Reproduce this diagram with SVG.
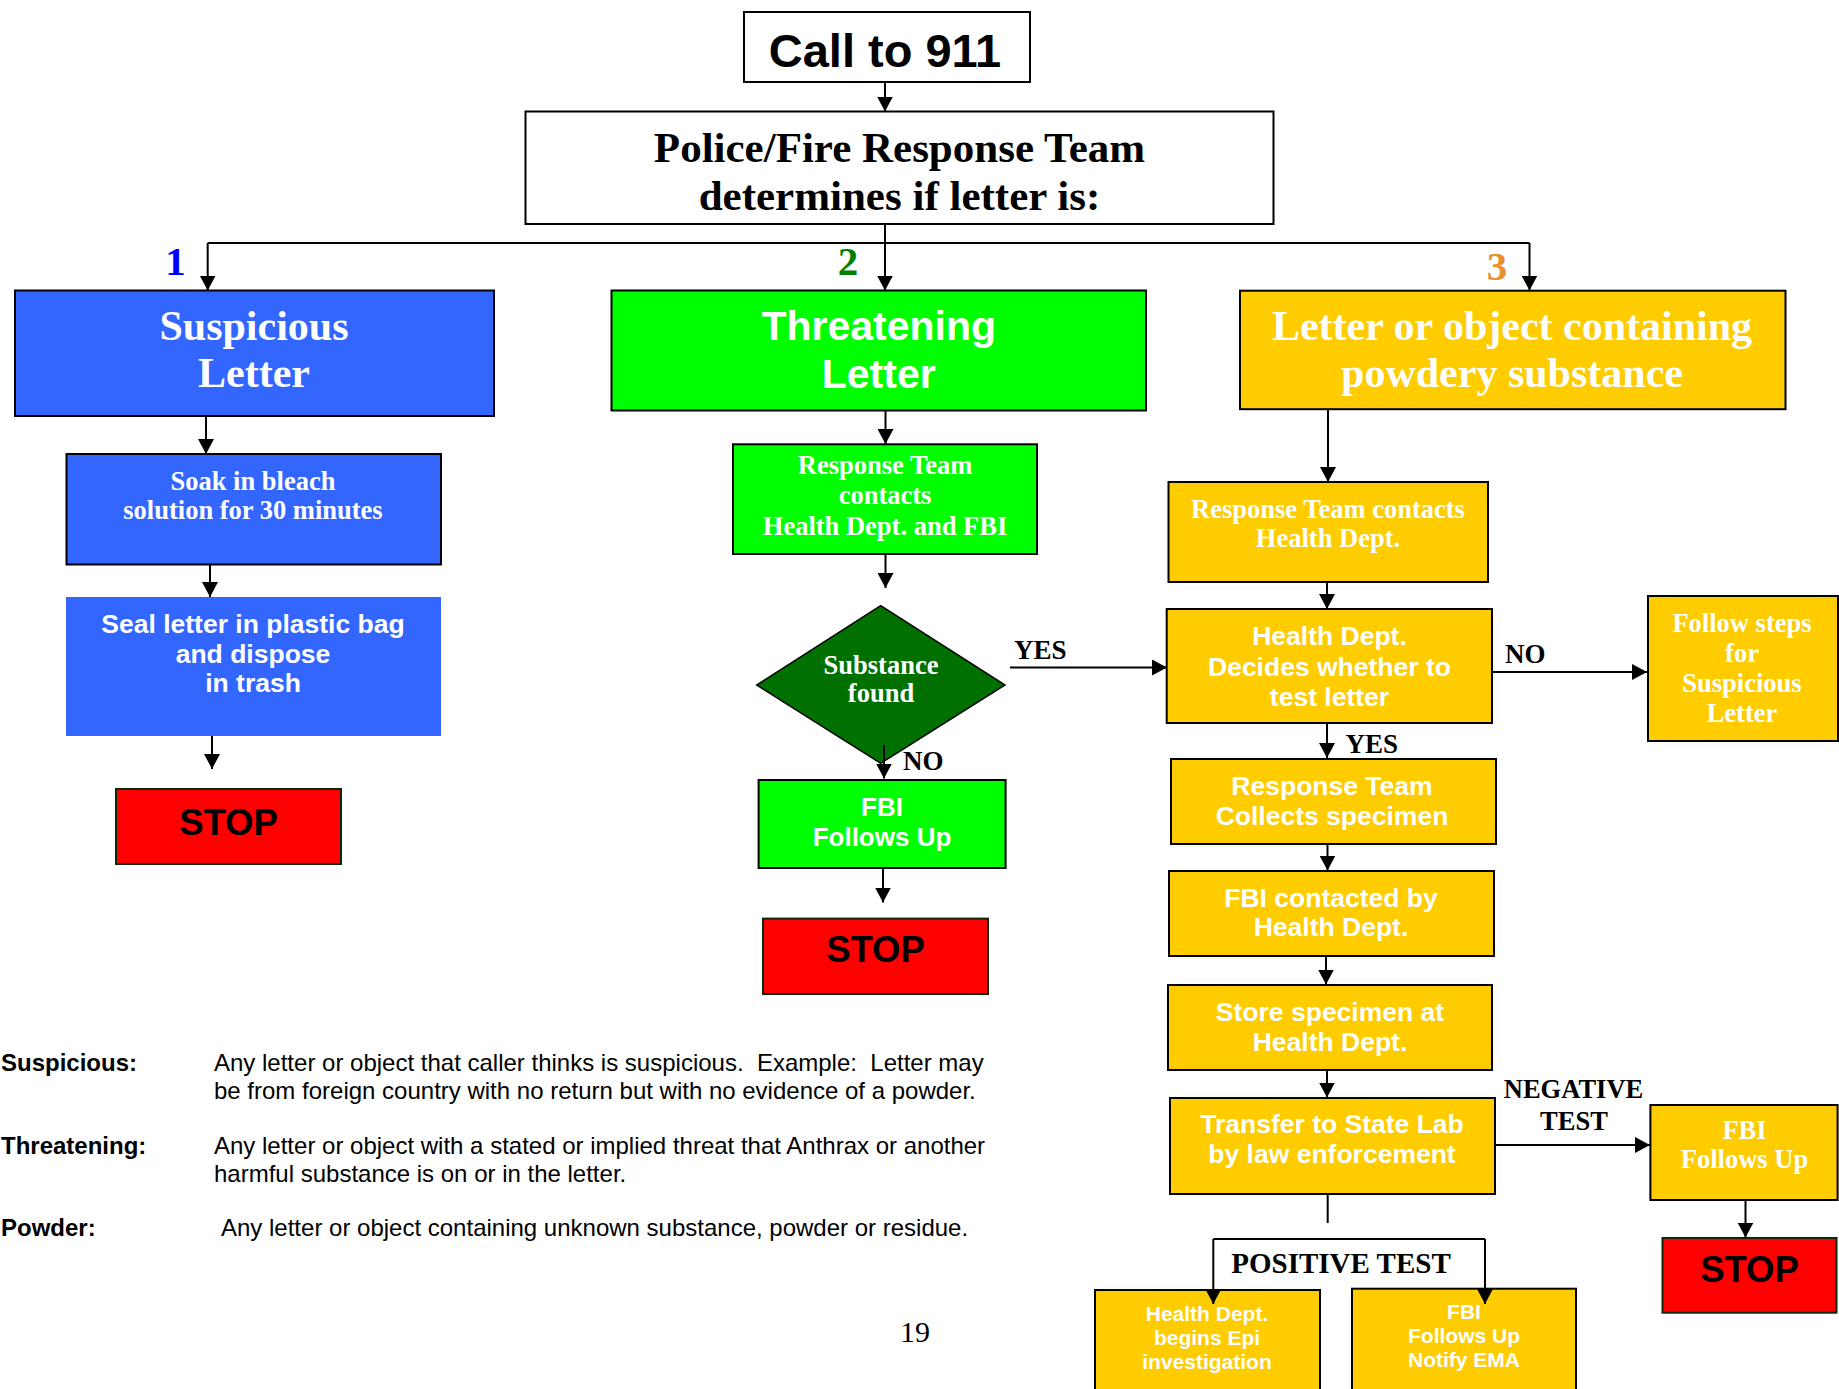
<svg xmlns="http://www.w3.org/2000/svg" width="1839" height="1389" viewBox="0 0 1839 1389">
<defs>
<marker id="ah" markerUnits="userSpaceOnUse" markerWidth="16" markerHeight="16" refX="15" refY="8" orient="auto">
<path d="M0,0 L15,8 L0,16 z" fill="#000"/>
</marker>
<style>
.serif{font-family:"Liberation Serif","Times New Roman",serif;font-weight:bold}
.sans{font-family:"Liberation Sans",Arial,sans-serif;font-weight:bold}
.c{text-anchor:middle}
.w{fill:#fff}
.k{fill:#000}
.box{stroke:#000;stroke-width:2}
.blue{fill:#3366FF}
.green{fill:#00FF00}
.gold{fill:#FFCC00}
.red{fill:#FF0000;stroke:#0a2a0a;stroke-width:2}
.white{fill:#fff}
.conn line,.conn path{stroke:#000;stroke-width:2;fill:none}
.arr{marker-end:url(#ah)}
.leg{font-family:"Liberation Sans",Arial,sans-serif;font-size:24px;fill:#000;white-space:pre}
</style>
</defs>
<rect width="1839" height="1389" fill="#fff"/>

<g id="call911">
<rect class="box white" x="744" y="12" width="286" height="70"/>
<text class="sans c k" x="885" y="67" font-size="47">Call to 911</text>
</g>
<g id="police">
<rect class="box white" x="525.5" y="111.5" width="748" height="112.5"/>
<text class="serif c k" x="899.5" y="162" font-size="43">Police/Fire Response Team</text>
<text class="serif c k" x="899.5" y="210" font-size="43">determines if letter is:</text>
</g>

<g id="num-labels">
<text class="serif c" x="175.5" y="275" font-size="41" fill="#0000FF">1</text>
<text class="serif c" x="848" y="275" font-size="41" fill="#008000">2</text>
<text class="serif c" x="1497" y="280" font-size="41" fill="#E8902E">3</text>
</g>

<g id="suspicious">
<rect class="box blue" x="15" y="290.5" width="479" height="125.5"/>
<text class="serif c w" x="254" y="340" font-size="42">Suspicious</text>
<text class="serif c w" x="254" y="387" font-size="42">Letter</text>
</g>
<g id="soak">
<rect class="box blue" x="66.5" y="454" width="374.5" height="110.5"/>
<text class="serif c w" x="253" y="490" font-size="26.5">Soak in bleach</text>
<text class="serif c w" x="253" y="519" font-size="26.5">solution for 30 minutes</text>
</g>
<g id="seal">
<rect class="blue" x="66" y="597" width="375" height="139"/>
<text class="sans c w" x="253" y="633" font-size="26.5">Seal letter in plastic bag</text>
<text class="sans c w" x="253" y="663" font-size="26.5">and dispose</text>
<text class="sans c w" x="253" y="692" font-size="26.5">in trash</text>
</g>
<g id="stop1">
<rect class="red" x="116" y="789" width="225" height="75"/>
<text class="sans c k" x="228.5" y="835" font-size="36.5">STOP</text>
</g>

<g id="threatening">
<rect class="box green" x="611.5" y="290.5" width="534.5" height="120"/>
<text class="sans c w" x="878.7" y="340" font-size="41">Threatening</text>
<text class="sans c w" x="878.7" y="388" font-size="41">Letter</text>
</g>
<g id="rt-contacts-hd-fbi">
<rect class="box green" x="733" y="444.3" width="304" height="109.7"/>
<text class="serif c w" x="885" y="474" font-size="26.5">Response Team</text>
<text class="serif c w" x="885" y="504" font-size="26.5">contacts</text>
<text class="serif c w" x="885" y="534.5" font-size="26.5">Health Dept. and FBI</text>
</g>
<g id="substance-found">
<polygon points="880.7,605.7 1005,685 880.7,763.3 756.7,685" fill="#007000" stroke="#000" stroke-width="1.5"/>
<text class="serif c w" x="881" y="673.5" font-size="26.5">Substance</text>
<text class="serif c w" x="881" y="702" font-size="26.5">found</text>
</g>
<g id="fbi-follows-green">
<rect class="box green" x="758.6" y="780" width="247" height="88"/>
<text class="sans c w" x="882" y="815.7" font-size="26">FBI</text>
<text class="sans c w" x="882" y="846" font-size="26">Follows Up</text>
</g>
<g id="stop2">
<rect class="red" x="763" y="918.6" width="225" height="75.4"/>
<text class="sans c k" x="875.5" y="962" font-size="36.5">STOP</text>
</g>

<g id="powder">
<rect class="box gold" x="1240" y="290.7" width="545.5" height="118.5"/>
<text class="serif c w" x="1512" y="340" font-size="42">Letter or object containing</text>
<text class="serif c w" x="1512" y="387" font-size="42">powdery substance</text>
</g>
<g id="rt-contacts-hd">
<rect class="box gold" x="1168.5" y="482" width="319.5" height="100"/>
<text class="serif c w" x="1328" y="517.5" font-size="26.5">Response Team contacts</text>
<text class="serif c w" x="1328" y="547" font-size="26.5">Health Dept.</text>
</g>
<g id="hd-decides">
<rect class="box gold" x="1166.7" y="609" width="325.3" height="114"/>
<text class="sans c w" x="1329.5" y="645" font-size="26.5">Health Dept.</text>
<text class="sans c w" x="1329.5" y="675.7" font-size="26.5">Decides whether to</text>
<text class="sans c w" x="1329.5" y="706" font-size="26.5">test letter</text>
</g>
<g id="follow-steps">
<rect class="box gold" x="1648" y="596" width="190" height="145"/>
<text class="serif c w" x="1742" y="632" font-size="26.5">Follow steps</text>
<text class="serif c w" x="1742" y="661.5" font-size="26.5">for</text>
<text class="serif c w" x="1742" y="692" font-size="26.5">Suspicious</text>
<text class="serif c w" x="1742" y="722" font-size="26.5">Letter</text>
</g>
<g id="rt-collects">
<rect class="box gold" x="1171" y="759" width="325" height="85"/>
<text class="sans c w" x="1332" y="795" font-size="26.5">Response Team</text>
<text class="sans c w" x="1332" y="825" font-size="26.5">Collects specimen</text>
</g>
<g id="fbi-contacted">
<rect class="box gold" x="1169" y="871" width="325" height="85"/>
<text class="sans c w" x="1331" y="907" font-size="26.5">FBI contacted by</text>
<text class="sans c w" x="1331" y="936.4" font-size="26.5">Health Dept.</text>
</g>
<g id="store-specimen">
<rect class="box gold" x="1168" y="985" width="324" height="85"/>
<text class="sans c w" x="1330" y="1020.7" font-size="26.5">Store specimen at</text>
<text class="sans c w" x="1330" y="1050.7" font-size="26.5">Health Dept.</text>
</g>
<g id="transfer">
<rect class="box gold" x="1170" y="1098" width="325" height="96"/>
<text class="sans c w" x="1332" y="1133" font-size="26.5">Transfer to State Lab</text>
<text class="sans c w" x="1332" y="1162.7" font-size="26.5">by law enforcement</text>
</g>
<g id="fbi-follows-gold">
<rect class="box gold" x="1650.4" y="1105" width="187.2" height="95"/>
<text class="serif c w" x="1744.5" y="1139" font-size="26.5">FBI</text>
<text class="serif c w" x="1744.5" y="1168" font-size="26.5">Follows Up</text>
</g>
<g id="stop3">
<rect class="red" x="1662.5" y="1238" width="174" height="74.7"/>
<text class="sans c k" x="1749.5" y="1281.7" font-size="36.5">STOP</text>
</g>
<g id="hd-epi">
<rect class="box gold" x="1095" y="1290" width="225" height="110"/>
<text class="sans c w" x="1207" y="1320.7" font-size="21">Health Dept.</text>
<text class="sans c w" x="1207" y="1345" font-size="21">begins Epi</text>
<text class="sans c w" x="1207" y="1369" font-size="21">investigation</text>
</g>
<g id="fbi-notify">
<rect class="box gold" x="1352" y="1288.7" width="224" height="110"/>
<text class="sans c w" x="1464" y="1319" font-size="21">FBI</text>
<text class="sans c w" x="1464" y="1343" font-size="21">Follows Up</text>
<text class="sans c w" x="1464" y="1367" font-size="21">Notify EMA</text>
</g>

<g id="connectors" class="conn">
<line class="arr" x1="885" y1="82" x2="885" y2="111.5"/>
<line x1="885" y1="224" x2="885" y2="243"/>
<line x1="207.7" y1="243" x2="1529.5" y2="243"/>
<line class="arr" x1="207.7" y1="243" x2="207.7" y2="290.5"/>
<line class="arr" x1="885" y1="243" x2="885" y2="290.5"/>
<line class="arr" x1="1529.5" y1="243" x2="1529.5" y2="290.5"/>
<line class="arr" x1="206" y1="416" x2="206" y2="454"/>
<line class="arr" x1="210" y1="565" x2="210" y2="597"/>
<line class="arr" x1="212" y1="736" x2="212" y2="769"/>
<line class="arr" x1="885.5" y1="411" x2="885.5" y2="444"/>
<line class="arr" x1="885.5" y1="554" x2="885.5" y2="588"/>
<line class="arr" x1="884" y1="745" x2="884" y2="778.5"/>
<line class="arr" x1="1010" y1="667.5" x2="1167" y2="667.5"/>
<line class="arr" x1="883" y1="868" x2="883" y2="902.5"/>
<line class="arr" x1="1328" y1="409" x2="1328" y2="482"/>
<line class="arr" x1="1327" y1="582" x2="1327" y2="609"/>
<line class="arr" x1="1492" y1="672" x2="1647" y2="672"/>
<line class="arr" x1="1327" y1="723" x2="1327" y2="758"/>
<line class="arr" x1="1327.5" y1="844" x2="1327.5" y2="870.5"/>
<line class="arr" x1="1326" y1="956" x2="1326" y2="984.5"/>
<line class="arr" x1="1327" y1="1070" x2="1327" y2="1097.5"/>
<line class="arr" x1="1495" y1="1145" x2="1650" y2="1145"/>
<line class="arr" x1="1745.5" y1="1200" x2="1745.5" y2="1237.5"/>
<line x1="1327.7" y1="1194" x2="1327.7" y2="1223"/>
<line x1="1213.3" y1="1239" x2="1485" y2="1239"/>
<line class="arr" x1="1213.3" y1="1239" x2="1213.3" y2="1304"/>
<line class="arr" x1="1485" y1="1239" x2="1485" y2="1304"/>
</g>

<g id="connector-labels">
<text class="serif k" x="903" y="770" font-size="27">NO</text>
<text class="serif k" x="1014" y="658.6" font-size="27">YES</text>
<text class="serif k" x="1505" y="663" font-size="27">NO</text>
<text class="serif k" x="1345.5" y="752.5" font-size="27">YES</text>
<text class="serif c k" x="1573.5" y="1098.3" font-size="26.5">NEGATIVE</text>
<text class="serif c k" x="1574" y="1130" font-size="26.5">TEST</text>
<text class="serif c k" x="1341" y="1273.3" font-size="29">POSITIVE TEST</text>
</g>

<g id="legend">
<text class="leg" x="1" y="1071" font-weight="bold">Suspicious:</text>
<text class="leg" x="214" y="1071" xml:space="preserve">Any letter or object that caller thinks is suspicious.  Example:  Letter may</text>
<text class="leg" x="214" y="1099">be from foreign country with no return but with no evidence of a powder.</text>
<text class="leg" x="1" y="1154" font-weight="bold">Threatening:</text>
<text class="leg" x="214" y="1154">Any letter or object with a stated or implied threat that Anthrax or another</text>
<text class="leg" x="214" y="1181.5">harmful substance is on or in the letter.</text>
<text class="leg" x="1" y="1236" font-weight="bold">Powder:</text>
<text class="leg" x="221" y="1236">Any letter or object containing unknown substance, powder or residue.</text>
</g>
<text x="915" y="1341.7" font-family="'Liberation Serif','Times New Roman',serif" font-size="30" text-anchor="middle" fill="#000">19</text>
</svg>
